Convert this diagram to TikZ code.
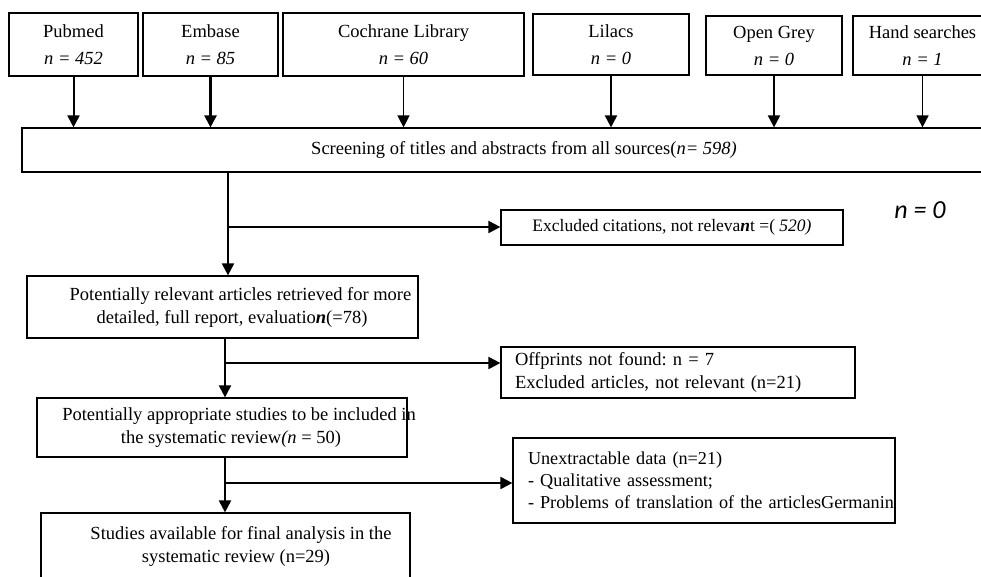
\documentclass[tikz,border=0pt]{standalone}
\usepackage{fontspec}
\setmainfont{Liberation Serif}
\newfontfamily\calfont{Carlito}
\usetikzlibrary{positioning, arrows.meta}
\frenchspacing
% line set off to the right of the box centre
\newcommand{\nudge}[2]{\makebox[0pt]{\hspace*{#1}#2}}

\begin{document}
\begin{tikzpicture}[x=1pt,y=-1pt,
        source/.style={rectangle,draw=black,line width=1.2pt,inner sep=0pt,align=center,font=\fontsize{18.5}{27}\selectfont},
        stage/.style={rectangle,draw=black,line width=1.2pt,inner sep=0pt,align=center,font=\fontsize{18.5}{23}\selectfont},
        excluded/.style={rectangle,draw=black,line width=1.2pt,inner xsep=14pt,inner ysep=0pt,align=left,font=\fontsize{18.5}{23}\selectfont},
        flow/.style={line width=2pt,-{Triangle[length=12pt,width=12pt]}}]
        \useasboundingbox (0,0) rectangle (981,576);

        % sources
        \node[source, minimum width=129pt, minimum height=63pt] (pubmed)  at (73.5,44.5) {Pubmed\\\textit{n = 452}};
        \node[source, minimum width=135pt, minimum height=63pt] (embase)  at (210.5,44.5) {Embase\\\textit{n = 85}};
        \node[source, minimum width=241pt, minimum height=63pt] (cochrane) at (403.5,44.5) {Cochrane Library\\\textit{n = 60}};
        \node[source, minimum width=156pt, minimum height=61pt] (lilacs)  at (611,44.5) {Lilacs\\\textit{n = 0}};
        \node[source, minimum width=136pt, minimum height=59pt] (opengrey) at (774,45.5) {Open Grey\\\textit{n = 0}};
        \node[source, minimum width=139pt, minimum height=59pt] (hand)    at (922.5,45.5) {Hand searches\\\textit{n = 1}};

        % main stages
        \node[stage, minimum width=1004pt, minimum height=44pt] (screen) at (524,150) {Screening of titles and abstracts from all sources(\textit{n= 598)}};
        \node[stage, minimum width=391pt, minimum height=62pt] (potrel) at (222.5,307) {\nudge{36pt}{Potentially relevant articles retrieved for more}\\\nudge{19pt}{detailed, full report, evaluatio\textbf{\textit{n}}(=78)}};
        \node[stage, minimum width=370pt, minimum height=59pt] (potapp) at (222,427.5) {\nudge{34pt}{Potentially appropriate studies to be included in}\\\nudge{18pt}{the systematic review\textit{(n} = 50)}};
        \node[stage, minimum width=369pt, minimum height=66pt] (studies) at (225.5,546) {\nudge{31pt}{Studies available for final analysis in the}\\\nudge{21pt}{systematic review (n=29)}};

        % exclusions
        \node[stage, minimum width=342pt, minimum height=35pt, font=\fontsize{17.5}{21}\selectfont] (excl) at (672,227.5) {Excluded citations, not releva\textbf{\textit{n}}t =( \textit{520)}};
        \node[excluded, text width=326pt, minimum height=51pt] (offp) at (678,372.5) {Offprints not found: n = 7\\Excluded articles, not relevant (n=21)};
        \node[excluded, text width=352pt, inner xsep=15pt, minimum height=85pt, font=\fontsize{18.2}{22}\selectfont] (unext) at (704,480.5) {Unextractable data (n=21)\\- Qualitative assessment;\\\mbox{- Problems of translation of the articlesGermanin}};
        \node[font=\calfont\itshape\fontsize{26}{30}\selectfont] (nzero) at (920,210) {n = 0};

        \coordinate (j1) at (228,227);
        \coordinate (j2) at (225,363);
        \coordinate (j3) at (225,483);

        \path[flow] (pubmed)   edge [] (pubmed |- screen.north)
                    (embase)   edge [line width=2.6pt] (embase |- screen.north)
                    (cochrane) edge [line width=1.4pt] (cochrane |- screen.north)
                    (lilacs)   edge [] (lilacs |- screen.north)
                    (opengrey) edge [] (opengrey |- screen.north)
                    (hand)     edge [line width=1.5pt] (hand |- screen.north);

        \path[flow] (screen.south -| j1) edge [] (potrel.north -| j1)
                    (j1) edge [] (excl.west |- j1)
                    (potrel.south -| j2) edge [] (potapp.north -| j2)
                    (j2) edge [] (offp.west |- j2)
                    (potapp.south -| j3) edge [] (studies.north -| j3)
                    (j3) edge [] (unext.west |- j3);
    \end{tikzpicture}
\end{document}
